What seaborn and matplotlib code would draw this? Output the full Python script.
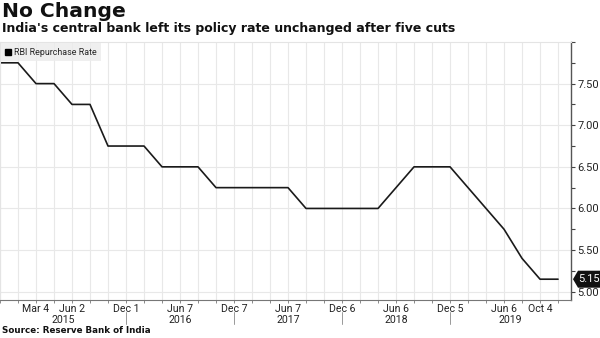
import matplotlib
matplotlib.use("Agg")
import matplotlib.pyplot as plt
import matplotlib.transforms as mtransforms
from matplotlib.patches import Polygon
from matplotlib.lines import Line2D
import seaborn as sns
import pandas as pd

# ---- data ----
meeting_dates = ["Jan 15", "Feb 3", "Mar 4", "Apr 7", "Jun 2", "Aug 4", "Sep 29", "Dec 1",
                 "Feb 2", "Apr 5", "Jun 7", "Aug 9", "Oct 4", "Dec 7",
                 "Feb 8", "Apr 6", "Jun 7", "Aug 2", "Oct 4", "Dec 6",
                 "Feb 7", "Apr 5", "Jun 6", "Aug 1", "Oct 5", "Dec 5",
                 "Feb 7", "Apr 4", "Jun 6", "Aug 7", "Oct 4", "Dec 5"]
meeting_years = [2015] * 8 + [2016] * 6 + [2017] * 6 + [2018] * 6 + [2019] * 6
repo_rate = [7.75, 7.75, 7.50, 7.50, 7.25, 7.25, 6.75, 6.75,
             6.75, 6.50, 6.50, 6.50, 6.25, 6.25,
             6.25, 6.25, 6.25, 6.00, 6.00, 6.00,
             6.00, 6.00, 6.25, 6.50, 6.50, 6.50,
             6.25, 6.00, 5.75, 5.40, 5.15, 5.15]
labeled_ticks = [2, 4, 7, 10, 13, 16, 19, 22, 25, 28, 30]
year_labels = ["2015", "2016", "2017", "2018", "2019"]
year_centers = [3.5, 10, 16, 22, 28.35]
year_separators = [7, 13, 19, 25]
y_major = [5.00, 5.50, 6.00, 6.50, 7.00, 7.50]
y_minor = [5.25, 5.75, 6.25, 6.75, 7.25, 7.75, 8.00]
series_name = "RBI Repurchase Rate"
title = "No Change"
subtitle = "India's central bank left its policy rate unchanged after five cuts"
source = "Source: Reserve Bank of India"

df = pd.DataFrame({"idx": range(len(repo_rate)), "rate": repo_rate})

sns.set_style("white")
plt.rcParams["font.family"] = ["DejaVu Sans"]

W, H = 600, 338
fig = plt.figure(figsize=(6, 3.38), dpi=100)
ax_left, ax_right, ax_top, ax_bot = 0, 571, 42, 300
ax = fig.add_axes([ax_left / W, 1 - ax_bot / H, (ax_right - ax_left) / W, (ax_bot - ax_top) / H])

sns.lineplot(data=df, x="idx", y="rate", ax=ax, color="#1a1a1a", linewidth=1.2, legend=False)

ax.set_xlim(0, 31.72)
ax.set_ylim(4.90, 8.00)
ax.set_xlabel("")
ax.set_ylabel("")

tick_font = {"family": "Roboto", "size": 7.6}
ax.set_xticks(range(len(repo_rate)), minor=True)
ax.set_xticks(labeled_ticks)
ax.set_xticklabels([meeting_dates[i] for i in labeled_ticks], fontdict=tick_font, color="#222222")
ax.set_yticks(y_major)
ax.set_yticks(y_minor, minor=True)
ax.set_yticklabels([f"{v:.2f}" for v in y_major], fontfamily="Roboto", fontsize=8.0, color="#222222")
ax.yaxis.tick_right()
ax.yaxis.set_label_position("right")
ax.tick_params(axis="y", which="both", direction="out", length=3, width=0.8, color="#444444", pad=1.5,
               right=True, left=False)
ax.tick_params(axis="x", which="both", direction="out", length=2.5, width=0.6, color="#777777", pad=0.3,
               bottom=True, top=False)

for i in range(len(repo_rate)):
    ax.axvline(i, color="#e8e8e8", lw=0.8, zorder=0)
for v in y_major:
    ax.axhline(v, color="#e8e8e8", lw=0.8, zorder=0)

for s in ["top", "left"]:
    ax.spines[s].set_color("#e4e4e4")
    ax.spines[s].set_linewidth(0.8)
ax.spines["right"].set_color("#555555")
ax.spines["right"].set_linewidth(1.0)
ax.spines["bottom"].set_color("#777777")
ax.spines["bottom"].set_linewidth(0.8)

# year labels and separators
trans = mtransforms.blended_transform_factory(ax.transData, ax.transAxes)
h_ax = ax_bot - ax_top
for lab, c in zip(year_labels, year_centers):
    ax.text(c, -(320 - ax_bot) / h_ax, lab, transform=trans, ha="center", va="center",
            fontdict=tick_font, color="#222222")
for s in year_separators:
    ax.add_line(Line2D([s, s], [-(312 - ax_bot) / h_ax, -(324 - ax_bot) / h_ax], transform=trans,
                       color="#999999", lw=0.7, clip_on=False))

# legend
handle = Line2D([], [], marker="s", color="black", linestyle="none", markersize=4.6)
leg = ax.legend([handle], [series_name], loc="upper left", bbox_to_anchor=(0, 1), borderaxespad=0.15,
                frameon=True, fancybox=False, facecolor="#ececec", edgecolor="#ececec",
                handlelength=0.6, handletextpad=0.3, borderpad=0.5,
                prop={"family": "Roboto", "size": 6.4})
leg.get_frame().set_linewidth(0)

# last value tag
fig.canvas.draw()
last = repo_rate[-1]
yp = ax.transData.transform((0, last))[1]
xp = ax.transAxes.transform((1, 0))[0]
tag = Polygon([[xp + 2, yp], [xp + 7, yp + 8.5], [W, yp + 8.5], [W, yp - 8.5], [xp + 7, yp - 8.5]],
              closed=True, facecolor="#111111", edgecolor="none", transform=mtransforms.IdentityTransform(),
              clip_on=False, zorder=10)
fig.add_artist(tag)
fig.text((xp + 7.5) / W, yp / H, f"{last:.2f}", ha="left", va="center", color="white",
         fontfamily="Roboto", fontsize=8.0, zorder=11)

# titles
fig.text(2 / W, 1 - 2 / H, title, ha="left", va="top", fontsize=14.6, fontweight="bold", color="#111111")
fig.text(2 / W, 1 - 22 / H, subtitle, ha="left", va="top", fontsize=9.0, fontweight="bold", color="#111111")
fig.text(2 / W, 1 - 326 / H, source, ha="left", va="top", fontsize=6.35, fontweight="bold", color="#111111")

fig.savefig("out.png", dpi=100)
